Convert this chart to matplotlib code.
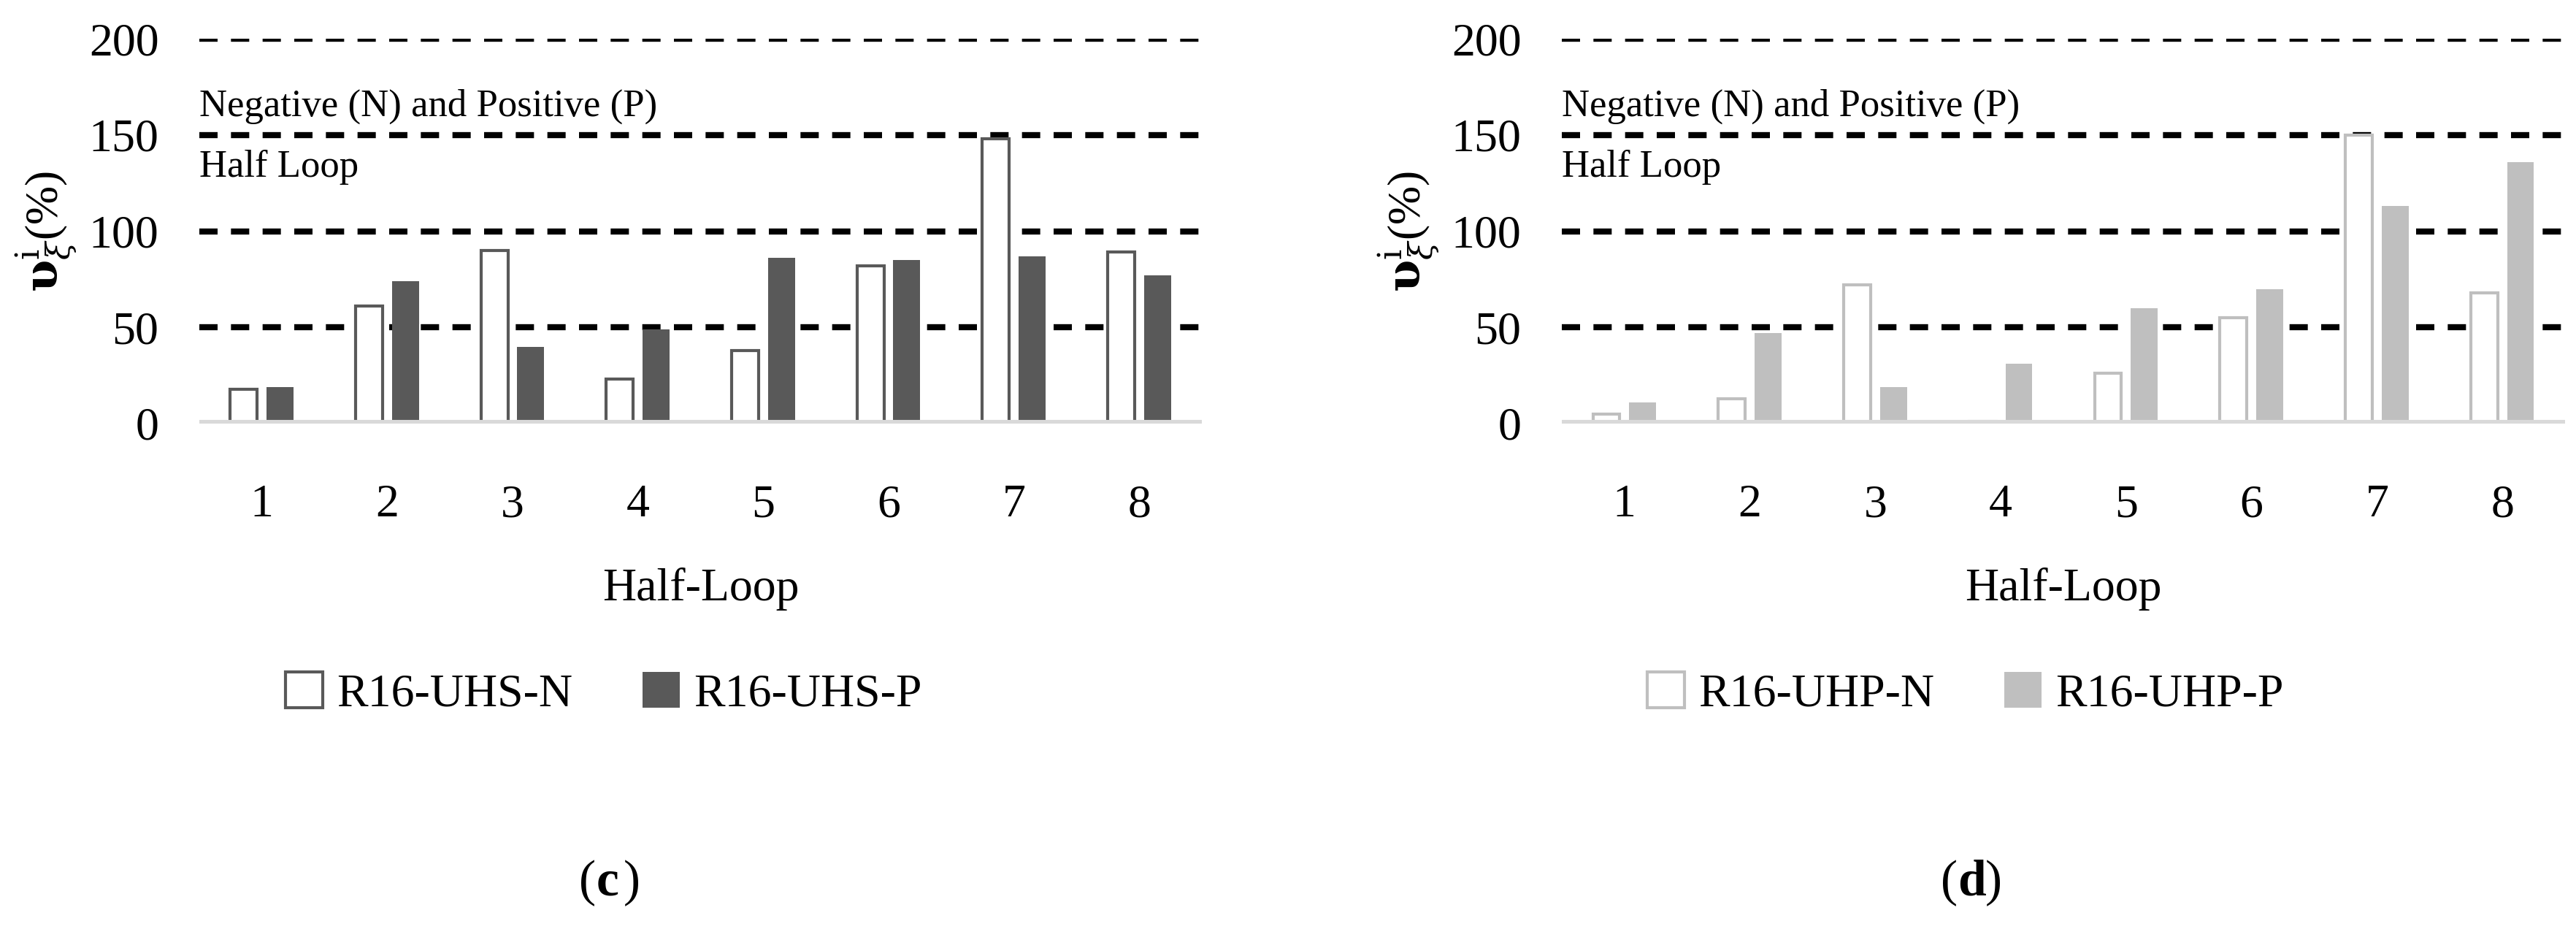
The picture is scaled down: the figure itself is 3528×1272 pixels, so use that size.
import numpy as np
import matplotlib
matplotlib.use('Agg')
import matplotlib.pyplot as plt

plt.rcParams['font.family'] = ['Liberation Serif', 'DejaVu Serif']
plt.rcParams['mathtext.fontset'] = 'dejavuserif'

loops = [1, 2, 3, 4, 5, 6, 7, 8]
uhs_n = [18, 61, 90, 23, 38, 82, 148, 89]
uhs_p = [19, 74, 40, 49, 86, 85, 87, 77]
uhp_n = [5, 13, 72, 1, 26, 55, 150, 68]
uhp_p = [11, 47, 19, 31, 60, 70, 113, 136]

W, H = 3528, 1272
fig = plt.figure(figsize=(W / 100, H / 100), dpi=100)


def panel(x0, x1, n_vals, p_vals, color, names, leg_cx, tag):
    ax = fig.add_axes([x0 / W, 1 - 580 / H, (x1 - x0) / W, (580 - 53) / H])
    x = np.arange(len(loops))
    ax.bar(x - 0.145, n_vals, 0.215, color='white', edgecolor=color, linewidth=3, label=names[0], zorder=3)
    ax.bar(x + 0.145, p_vals, 0.215, color=color, edgecolor=color, linewidth=0, label=names[1], zorder=3)
    for y in [50, 100, 150, 200]:
        ax.axhline(y, color='black', lw=6, ls=(0, (3, 2.2)), zorder=2)
    ax.axhline(0, color='#d9d9d9', lw=8, zorder=4)
    ax.set_xlim(-0.5, 7.5)
    ax.set_ylim(0, 200)
    ax.set_yticks([0, 50, 100, 150, 200])
    ax.set_xticks(x)
    ax.set_xticklabels([str(v) for v in loops])
    ax.tick_params(length=0, labelsize=46, pad=40)
    ax.tick_params(axis='x', pad=60)
    for s in ax.spines.values():
        s.set_visible(False)
    ax.set_xlabel('Half-Loop', fontsize=46, labelpad=40)
    ax.set_ylabel(r'$\mathbf{\upsilon}^{\mathrm{i}}_{\xi}$(%)', fontsize=46, labelpad=10)
    ax.text(0, 146 / 527 * -1 + 1 + 53 / 527 * 0, '', transform=ax.transAxes)
    ax.text(0.0, 1 - (146 - 53) / 527, 'Negative (N) and Positive (P)', transform=ax.transAxes,
            fontsize=38, va='center', ha='left')
    ax.text(0.0, 1 - (229 - 53) / 527, 'Half Loop', transform=ax.transAxes,
            fontsize=38, va='center', ha='left')
    fig.legend(*ax.get_legend_handles_labels(), loc='center', bbox_to_anchor=(leg_cx / W, 1 - 950 / H),
               ncol=2, frameon=False, fontsize=46, handlelength=0.8, handleheight=0.8,
               handletextpad=0.3, columnspacing=1.5)
    fig.text(leg_cx / W - 0.003, 1 - 1209 / H, '(', fontsize=50, ha='right', va='center')
    fig.text(leg_cx / W - 0.003, 1 - 1209 / H, tag, fontsize=50, ha='left', va='center', weight='bold')
    fig.text(leg_cx / W + 0.0075, 1 - 1209 / H, ')', fontsize=50, ha='left', va='center')
    return ax


panel(273, 1646, uhs_n, uhs_p, '#595959', ['R16-UHS-N', 'R16-UHS-P'], 827, 'c')
panel(2139, 3513, uhp_n, uhp_p, '#bfbfbf', ['R16-UHP-N', 'R16-UHP-P'], 2692, 'd')

fig.savefig('out.png', dpi=100)
